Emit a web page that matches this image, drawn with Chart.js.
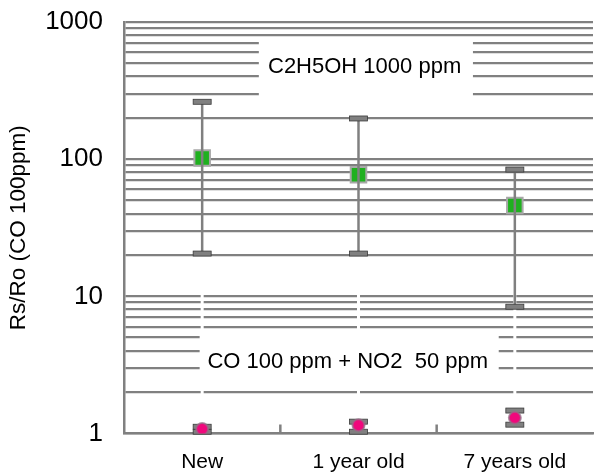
<!DOCTYPE html>
<html><head><meta charset="utf-8">
<script src="https://cdn.jsdelivr.net/npm/chart.js@4/dist/chart.umd.min.js"></script>
<style>html,body{margin:0;padding:0;background:#fff}#wrap{width:595px;height:472px}</style>
</head><body><div id="wrap"><canvas id="c"></canvas></div>
<script>
const categories = ['New', '1 year old', '7 years old'];
const ethanolValues = [102, 77, 46];
const ethanolLow = [20.5, 20.5, 8.4];
const ethanolHigh = [262, 198, 84];
const coNo2Values = [1.08, 1.15, 1.30];
const coNo2Low = [1.03, 1.03, 1.16];
const coNo2High = [1.12, 1.22, 1.47];
const yMajorTicks = [1, 10, 100, 1000];
const yAxisTitle = 'Rs/Ro (CO 100ppm)';
const noteEthanol = 'C2H5OH 1000 ppm';
const noteCoNo2 = 'CO 100 ppm + NO2  50 ppm';

const FONT = "'Liberation Sans', Arial, sans-serif";
const GRAY = '#808080';

// all log-scale grid values (1..9 x 10^k) between the major ticks
function logGridValues(majors) {
  const out = [];
  for (let k = 0; k < majors.length - 1; k++) {
    for (let m = 1; m < 10; m++) out.push(majors[k] * m);
  }
  out.push(majors[majors.length - 1]);
  return out;
}

const notesPlugin = {
  id: 'notes',
  beforeDatasetsDraw(chart) {
    const {ctx, chartArea: a, scales} = chart;
    const W = a.right - a.left, H = a.bottom - a.top;
    const y = scales.y, x = scales.x;
    ctx.save();
    // white gaps along category centers in the lower decade
    ctx.strokeStyle = '#ffffff';
    ctx.lineWidth = 3;
    categories.forEach((c, i) => {
      const px = x.getPixelForValue(i);
      ctx.beginPath();
      ctx.moveTo(px, y.getPixelForValue(12));
      ctx.lineTo(px, y.getPixelForValue(1.5));
      ctx.stroke();
    });
    const boxes = [
      {x0: 0.2875, x1: 0.744, y0: 0.040, y1: 0.190, tx: 0.513, ty: 0.108, text: noteEthanol},
      {x0: 0.1613, x1: 0.799, y0: 0.748, y1: 0.885, tx: 0.477, ty: 0.825, text: noteCoNo2}
    ];
    boxes.forEach(b => {
      ctx.fillStyle = '#ffffff';
      ctx.fillRect(a.left + b.x0 * W, a.top + b.y0 * H, (b.x1 - b.x0) * W, (b.y1 - b.y0) * H);
      ctx.fillStyle = '#000000';
      ctx.font = '22px ' + FONT;
      ctx.textAlign = 'center';
      ctx.textBaseline = 'middle';
      ctx.fillText(b.text, a.left + b.tx * W, a.top + b.ty * H);
    });
    // category boundary ticks on x axis
    ctx.strokeStyle = GRAY;
    ctx.lineWidth = 2.5;
    for (let i = 0; i < categories.length - 1; i++) {
      const px = (x.getPixelForValue(i) + x.getPixelForValue(i + 1)) / 2;
      ctx.beginPath();
      ctx.moveTo(px, a.bottom);
      ctx.lineTo(px, a.bottom - 9);
      ctx.stroke();
    }
    ctx.restore();
    drawErrorBars(chart, false);
  },
  afterDatasetsDraw(chart) {
    drawErrorBars(chart, true);
  }
};

function drawErrorBars(chart, onTop) {
  const {ctx, scales} = chart;
  const y = scales.y;
  chart.data.datasets.forEach((ds, di) => {
    if (!!ds.errOnTop !== onTop) return;
    const meta = chart.getDatasetMeta(di);
    ctx.save();
    meta.data.forEach((pt, i) => {
      const px = pt.x;
      const yl = y.getPixelForValue(ds.errLow[i]);
      const yh = y.getPixelForValue(ds.errHigh[i]);
      ctx.strokeStyle = GRAY;
      ctx.lineWidth = 2.5;
      ctx.beginPath();
      ctx.moveTo(px, yh);
      ctx.lineTo(px, yl);
      ctx.stroke();
      [yl, yh].forEach(cy => {
        ctx.fillStyle = GRAY;
        ctx.fillRect(px - 9, cy - 2.5, 18, 5);
        ctx.strokeStyle = '#3a3a3a';
        ctx.lineWidth = 0.8;
        ctx.strokeRect(px - 9, cy - 2.5, 18, 5);
      });
    });
    ctx.restore();
  });
}

new Chart(document.getElementById('c'), {
  type: 'line',
  data: {
    labels: categories,
    datasets: [
      {
        label: noteEthanol,
        data: ethanolValues,
        errLow: ethanolLow, errHigh: ethanolHigh, errOnTop: true,
        showLine: false,
        pointStyle: 'rect',
        pointRadius: 11,
        pointBackgroundColor: '#1fb01f',
        pointBorderColor: '#a8a8a8',
        pointBorderWidth: 2
      },
      {
        label: noteCoNo2,
        data: coNo2Values,
        errLow: coNo2Low, errHigh: coNo2High, errOnTop: false,
        showLine: false,
        pointStyle: 'circle',
        pointRadius: 6,
        pointBackgroundColor: '#f0087c',
        pointBorderColor: 'rgba(150,110,135,0.75)',
        pointBorderWidth: 2
      }
    ]
  },
  options: {
    responsive: true,
    maintainAspectRatio: false,
    animation: false,
    devicePixelRatio: 1,
    layout: {autoPadding: false, padding: {left: 0, right: 2, top: 22, bottom: 0}},
    plugins: {legend: {display: false}, tooltip: {enabled: false}},
    scales: {
      x: {
        type: 'category',
        offset: true,
        grid: {display: false, drawTicks: false},
        border: {display: true, color: GRAY, width: 2.5},
        ticks: {color: '#000', font: {family: FONT, size: 21}, padding: 16, autoSkip: false, maxRotation: 0},
        afterFit(s) { s.height = 38.5; s.paddingLeft = 0; s.paddingRight = 0; }
      },
      y: {
        type: 'logarithmic',
        min: yMajorTicks[0],
        max: yMajorTicks[yMajorTicks.length - 1],
        afterBuildTicks(s) {
          s.ticks = logGridValues(yMajorTicks).map(v => ({value: v, major: yMajorTicks.includes(v)}));
        },
        grid: {color: GRAY, lineWidth: 2.3, drawTicks: false},
        border: {display: true, color: GRAY, width: 2.5},
        ticks: {
          color: '#000', font: {family: FONT, size: 26}, padding: 21, autoSkip: false,
          callback: v => yMajorTicks.includes(v) ? String(v) : ''
        },
        title: {display: true, text: yAxisTitle, color: '#000', font: {family: FONT, size: 22.5}, padding: {top: 5, bottom: 0}},
        afterFit(s) { s.width = 124; s.paddingTop = 0; s.paddingBottom = 0; }
      }
    }
  },
  plugins: [notesPlugin]
});
</script>
</body></html>
